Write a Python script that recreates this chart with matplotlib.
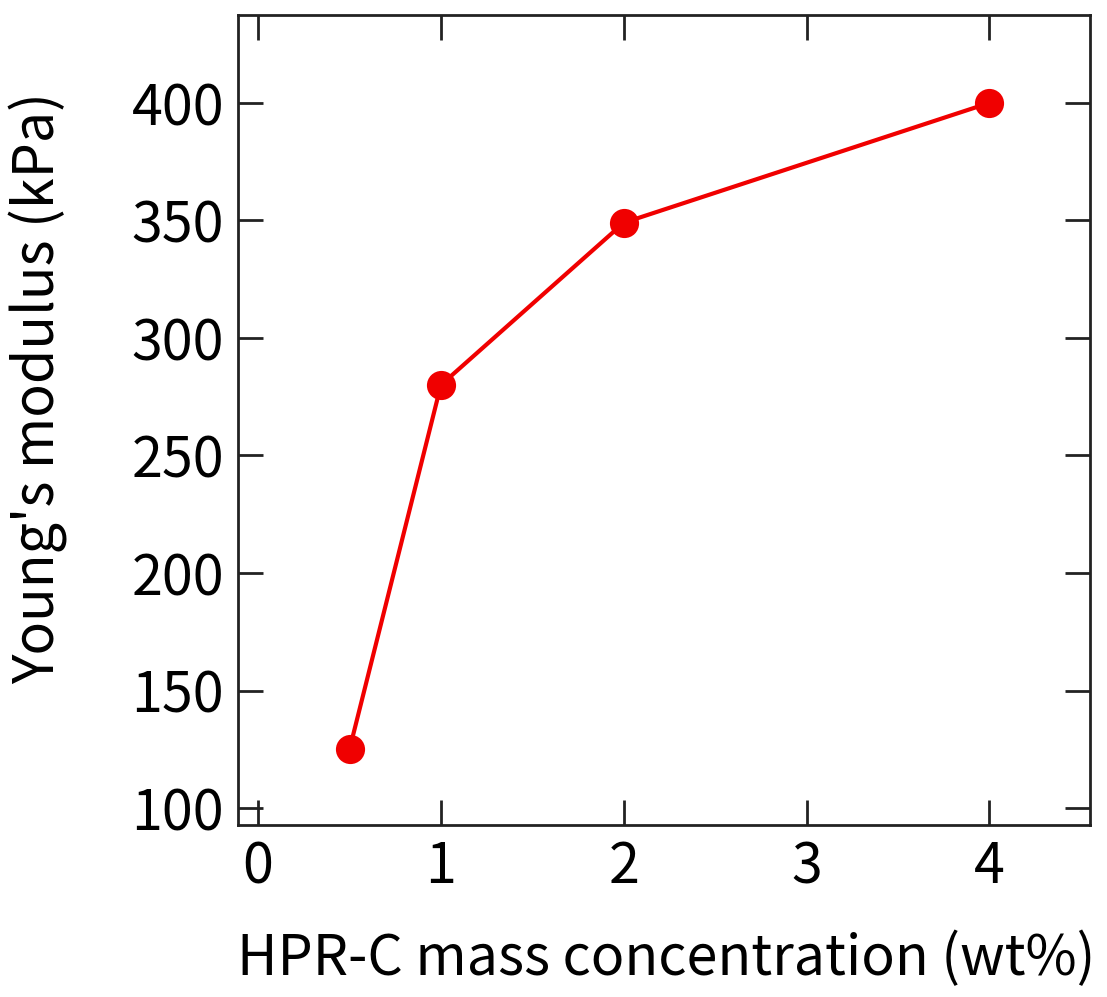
import matplotlib
matplotlib.use("Agg")
import matplotlib.pyplot as plt
from matplotlib import font_manager

# data
concentration = [0.5, 1, 2, 4]
modulus = [125, 280, 349, 400]
x_ticks = [0, 1, 2, 3, 4]
y_ticks = [100, 150, 200, 250, 300, 350, 400]

names = {f.name for f in font_manager.fontManager.ttflist}
family = [n for n in ("Liberation Sans Narrow", "Noto Sans CJK JP", "DejaVu Sans") if n in names]
plt.rcParams["font.family"] = family

fig = plt.figure(figsize=(11.07, 9.97), dpi=100)
ax = fig.add_axes([0.215, 0.1725, 0.7696, 0.8125])

ax.plot(concentration, modulus, color="#f00000", linewidth=3, marker="o",
        markersize=21, markeredgewidth=0, zorder=3)

ax.set_xlim(-0.11, 4.55)
ax.set_ylim(92.8, 437.4)
ax.set_xticks(x_ticks)
ax.set_yticks(y_ticks)
ax.tick_params(direction="in", length=18, width=2, top=True, right=True,
               labelsize=40, pad=10, color="#222222")
for spine in ax.spines.values():
    spine.set_linewidth(2)
    spine.set_color("#222222")

ax.set_xlabel("HPR-C mass concentration (wt%)", fontsize=40)
ax.set_ylabel("Young's modulus (kPa)", fontsize=40)
ax.xaxis.set_label_coords(0.503, -0.13)
ax.yaxis.set_label_coords(-0.2, 0.54)

fig.savefig("out.png", dpi=100, facecolor="white")
